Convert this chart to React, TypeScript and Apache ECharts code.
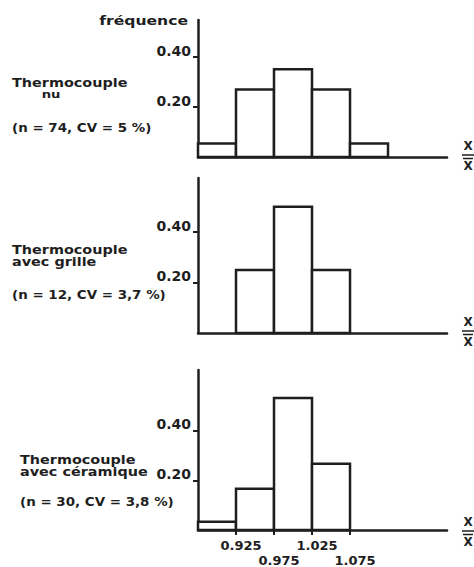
import React, { useEffect, useRef } from "react";
import * as echarts from "echarts";

// Bin edges (X / X̄) and relative frequencies per thermocouple type
const binStarts = [0.875, 0.925, 0.975, 1.025, 1.075];
const binWidth = 0.05;
const freqNu = [0.054, 0.27, 0.351, 0.27, 0.054];
const freqGrille = [0, 0.25, 0.5, 0.25, 0];
const freqCeramique = [0.033, 0.167, 0.533, 0.267, 0];
const yTickValues = [0.2, 0.4];
const xTickValues = [0.925, 0.975, 1.025, 1.075];
const xLabelsRow1 = [0.925, 1.025];
const xLabelsRow2 = [0.975, 1.075];
const panelTitles = [
  ["Thermocouple", "nu"],
  ["Thermocouple", "avec grille"],
  ["Thermocouple", "avec céramique"],
];
const panelStats = ["(n = 74, CV = 5 %)", "(n = 12, CV = 3,7 %)", "(n = 30, CV = 3,8 %)"];
const yAxisTitle = "fréquence";
const xAxisName = "X";

const INK = "#1e1e1e";
const FONT = '"DejaVu Sans", "Liberation Sans", sans-serif';

const grids = [
  { left: 198, top: 20, width: 249, height: 137 },
  { left: 198, top: 178, width: 249, height: 155 },
  { left: 198, top: 370, width: 249, height: 163 },
];
const yMax = [0.548, 0.614, 0.646];
const xMin = 0.875;
const xMax = 1.2026;

export default function App() {
  const ref = useRef<HTMLDivElement>(null);
  useEffect(() => {
    if (!ref.current) return;
    const chart = echarts.init(ref.current, null, { renderer: "svg" });
    const freqs = [freqNu, freqGrille, freqCeramique];

    const xLabelStyle = (values: number[], margin: number) => ({
      show: true,
      customValues: values,
      interval: 0,
      hideOverlap: false,
      margin,
      color: INK,
      fontFamily: FONT,
      fontWeight: "bold",
      fontSize: 13,
      lineHeight: 13,
      verticalAlign: "top",
      padding: [0, 0, 0, 10],
      formatter: (v: number) => v.toFixed(3),
    });

    const xAxes: any[] = grids.map((_, i) => ({
      type: "value",
      gridIndex: i,
      min: xMin,
      max: xMax,
      axisLine: { show: true, onZero: false, lineStyle: { color: INK, width: 2.5 } },
      splitLine: { show: false },
      axisTick: {
        show: i === 2,
        customValues: xTickValues,
        interval: 0,
        length: 5,
        lineStyle: { color: INK, width: 2 },
      },
      axisLabel: i === 2 ? xLabelStyle(xLabelsRow1, 9) : { show: false },
    }));
    // second row of staggered tick labels for the bottom panel
    xAxes.push({
      type: "value",
      gridIndex: 2,
      position: "bottom",
      min: xMin,
      max: xMax,
      axisLine: { show: false },
      axisTick: { show: false },
      splitLine: { show: false },
      axisLabel: xLabelStyle(xLabelsRow2, 24),
    });

    const yAxes = grids.map((_, i) => ({
      type: "value",
      gridIndex: i,
      min: 0,
      max: yMax[i],
      axisLine: { show: true, lineStyle: { color: INK, width: 2.5 } },
      splitLine: { show: false },
      axisTick: {
        show: true,
        customValues: yTickValues,
        length: 5,
        lineStyle: { color: INK, width: 2 },
      },
      axisLabel: {
        customValues: yTickValues,
        margin: 7,
        color: INK,
        fontFamily: FONT,
        fontWeight: "bold",
        fontSize: 14,
        lineHeight: 13,
        verticalAlign: "bottom",
        formatter: (v: number) => v.toFixed(2),
      },
    }));

    const series = freqs.map((f, i) => ({
      type: "custom",
      xAxisIndex: i,
      yAxisIndex: i,
      clip: false,
      encode: { x: [0, 1], y: 2 },
      data: binStarts
        .map((s, j) => [s, s + binWidth, f[j]])
        .filter((d) => d[2] > 0),
      renderItem: (_p: any, api: any) => {
        const p0 = api.coord([api.value(0), api.value(2)]);
        const p1 = api.coord([api.value(1), 0]);
        return {
          type: "rect",
          shape: { x: p0[0], y: p0[1], width: p1[0] - p0[0], height: p1[1] - p0[1] },
          style: { fill: "#fff", stroke: INK, lineWidth: 2.5 },
        };
      },
    }));

    const txt = (
      text: string,
      x: number,
      y: number,
      size: number,
      align = "left",
      vAlign = "top",
      sx = 1
    ) => ({
      type: "text",
      x,
      y,
      scaleX: sx,
      style: {
        text,
        x: 0,
        y: 0,
        fill: INK,
        font: `bold ${size}px ${FONT}`,
        lineHeight: size,
        align,
        verticalAlign: vAlign,
        textAlign: align,
        textVerticalAlign: vAlign,
      },
    });

    const labelPos = [
      { x: 12, t1: 77, t2: 89, nuCenter: true, s: 122 },
      { x: 12, t1: 244, t2: 256, nuCenter: false, s: 289 },
      { x: 20, t1: 454, t2: 466, nuCenter: false, s: 496 },
    ];
    const SX = 1.2;
    const graphics: any[] = [txt(yAxisTitle, 188, 20, 13, "right", "middle", 1.2)];
    labelPos.forEach((p, i) => {
      graphics.push(txt(panelTitles[i][0], p.x, p.t1, 12, "left", "top", SX));
      if (p.nuCenter) graphics.push(txt(panelTitles[i][1], 51, p.t2, 11, "center", "top", SX));
      else graphics.push(txt(panelTitles[i][1], p.x, p.t2, 12, "left", "top", SX));
      graphics.push(txt(panelStats[i], p.x, p.s, 12, "left", "top", 1.12));
    });
    grids.forEach((g) => {
      const b = g.top + g.height;
      graphics.push(txt(xAxisName, 468, b - 5, 12, "center", "bottom"));
      graphics.push({ type: "line", shape: { x1: 462, y1: b - 2, x2: 474, y2: b - 2 }, style: { stroke: INK, lineWidth: 1.5 } });
      graphics.push({ type: "line", shape: { x1: 463, y1: b + 1.5, x2: 473, y2: b + 1.5 }, style: { stroke: INK, lineWidth: 1.5 } });
      graphics.push(txt(xAxisName, 468, b + 3, 12, "center", "top"));
    });

    chart.setOption({
      animation: false,
      backgroundColor: "#fff",
      grid: grids.map((g) => ({ ...g, containLabel: false })),
      xAxis: xAxes,
      yAxis: yAxes,
      series,
      graphic: graphics,
    });
    return () => chart.dispose();
  }, []);
  return (
    <div
      ref={ref}
      style={{ position: "fixed", left: 0, top: 0, width: 474, height: 567, background: "#fff" }}
    />
  );
}
